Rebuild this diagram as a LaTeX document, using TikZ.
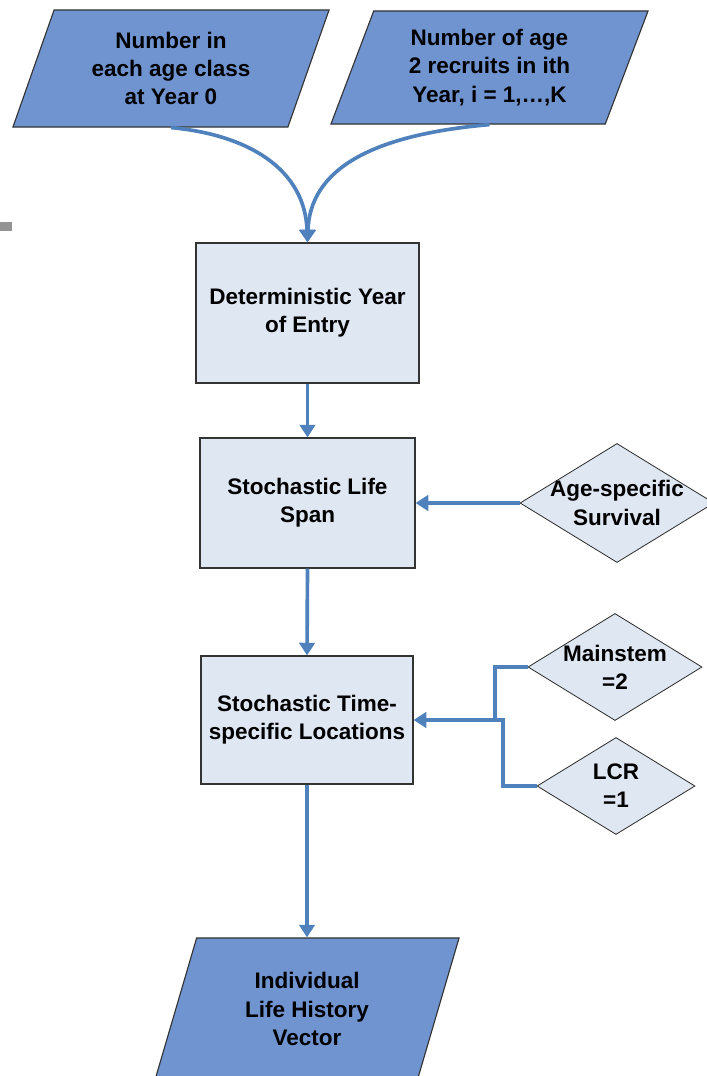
\documentclass[tikz,border=0pt]{standalone}
\usepackage{fontspec}
\setmainfont{Liberation Sans}
\usetikzlibrary{shapes.geometric,arrows.meta}
\definecolor{color1}{HTML}{4F81BD}
\definecolor{color2}{HTML}{DFE7F3}
\definecolor{color3}{HTML}{7094D0}
\definecolor{color4}{HTML}{333333}

\begin{document}
\begin{tikzpicture}[x=0.025cm,y=-0.025cm,
  txt/.style={font=\bfseries\fontsize{16}{20}\selectfont,align=center},
  box/.style={txt,rectangle,draw=color4,line width=0.8pt,fill=color2},
  datain/.style={txt,trapezium,trapezium stretches body,draw=color4,line width=0.8pt,fill=color3,trapezium left angle=63.4,trapezium right angle=116.6},
  choice/.style={diamond,draw=color4,line width=0.6pt,fill=color2,inner sep=0pt,label={[txt]center:#1}},
  flow/.style={color1,line width=2.6pt,-{Triangle[length=9pt,width=11pt]}},
  link/.style={color1,line width=2.6pt}]
\useasboundingbox (0,0) rectangle (707,1076);
\fill[gray!85] (0,222) rectangle (12,231);

% inputs
\node[datain,minimum width=7.9cm,minimum height=2.925cm] (n0) at (171,68.5) {Number in\\each age class\\at Year 0};
\node[datain,minimum width=7.925cm,minimum height=2.825cm] (n1) at (489.5,67.5) {Number of age\\2 recruits in ith\\Year, i = 1,\dots,K};

% steps
\node[box,minimum width=5.575cm,minimum height=3.5cm] (e0) at (307.5,313) {Deterministic Year\\of Entry};
\node[box,minimum width=5.375cm,minimum height=3.25cm] (e1) at (307.5,503) {Stochastic Life\\Span};
\node[box,minimum width=5.3cm,minimum height=3.2cm] (e2) at (307,720) {Stochastic Time-\\specific Locations};

% side inputs
\node[choice={Age-specific\\Survival},minimum width=4.85cm,minimum height=2.975cm] (d0) at (617,503) {};
\node[choice={Mainstem\\=2},minimum width=4.35cm,minimum height=2.675cm] (d1) at (615,667) {};
\node[choice={LCR\\=1},minimum width=3.95cm,minimum height=2.425cm] (d2) at (616,786) {};

% output
\node[datain,minimum width=7.6cm,minimum height=3.55cm,trapezium left angle=63.1,trapezium right angle=116.9] (n2) at (307,1009) {Individual\\Life History\\Vector};

\draw[flow] (n0.south) .. controls (250,135) and (305,170) .. (e0.north);
\draw[flow] (n1.south) .. controls (370,135) and (310,170) .. (e0.north);
\draw[flow] (e0.south) -- (e1.north);
\draw[flow] (e1.south) -- (e2.north);
\draw[flow] (e2.south) -- (e2.south |- n2.north);
\draw[flow] (d0.west) -- (e1.east);
\coordinate (k1) at (495,720); \coordinate (k2) at (503,720);
\draw[flow] (d1.west) -| (k1) -- (e2.east);
\draw[link] (d2.west) -| (k2) -- (k1);
\end{tikzpicture}
\end{document}
